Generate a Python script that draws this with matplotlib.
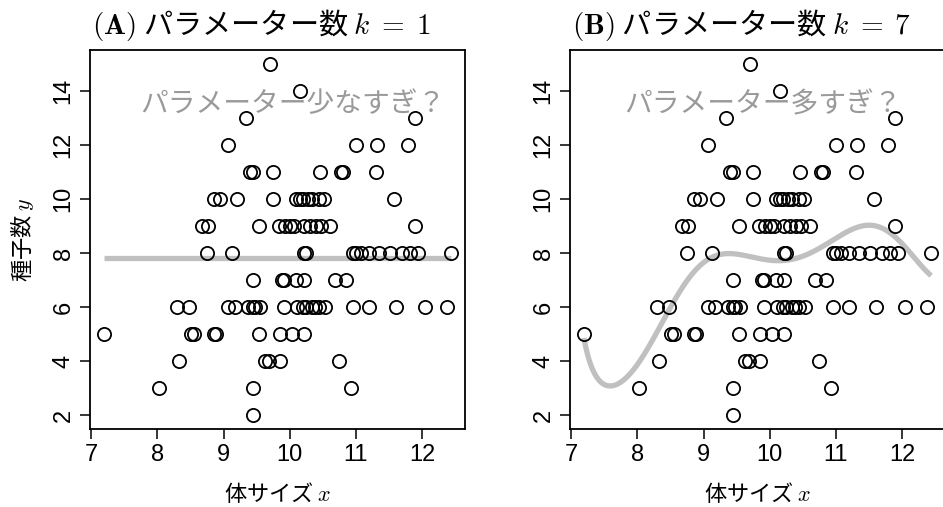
import numpy as np
import matplotlib.pyplot as plt

plt.rcParams['mathtext.fontset'] = 'cm'
jp = ['Noto Sans CJK JP', 'DejaVu Sans']
num_font = ['Liberation Sans Narrow', 'Liberation Sans', 'DejaVu Sans']

# 体サイズ x と 種子数 y
body_size = [
    9.70,
    10.15,
    9.34, 11.89,
    9.07, 11.00, 11.32, 11.79,
    9.40, 9.44, 9.74, 10.46, 10.78, 10.81, 11.30,
    8.85, 8.94, 9.21, 9.75, 10.09, 10.15, 10.20, 10.27, 10.34, 10.45, 10.52, 11.57,
    8.68, 8.77, 9.54, 9.84, 9.93, 10.00, 10.06, 10.22, 10.30, 10.39, 10.48, 10.61, 11.89,
    8.75, 9.12, 10.21, 10.25, 10.95, 11.00, 11.08, 11.20, 11.35, 11.52, 11.69, 11.82, 11.94, 12.44,
    9.44, 9.88, 9.91, 10.09, 10.21, 10.68, 10.85,
    8.30, 8.48, 9.07, 9.17, 9.37, 9.44, 9.47, 9.55, 9.91, 10.11, 10.20, 10.25, 10.33,
    10.38, 10.45, 10.53, 10.95, 11.20, 11.60, 12.04, 12.38,
    7.19, 8.50, 8.55, 8.86, 8.89, 9.54, 9.86, 10.04, 10.22,
    8.33, 9.62, 9.69, 9.86, 10.75,
    8.03, 9.45, 10.93,
    9.45,
]
seed_count = (
    [15] * 1 + [14] * 1 + [13] * 2 + [12] * 4 + [11] * 7 + [10] * 12 + [9] * 13
    + [8] * 14 + [7] * 7 + [6] * 21 + [5] * 9 + [4] * 5 + [3] * 3 + [2] * 1
)

panel_titles = [r"$\mathbf{(A)}$ パラメーター数 $k\;=\;1$",
                r"$\mathbf{(B)}$ パラメーター数 $k\;=\;7$"]
panel_notes = ["パラメーター少なすぎ？", "パラメーター多すぎ？"]
note_x = [10.05, 9.9]
n_params = [1, 7]
x_ticks = [7, 8, 9, 10, 11, 12]
y_ticks = [2, 4, 6, 8, 10, 12, 14]


def poisson_poly(x, y, k):
    # 多項式の Poisson 回帰 (IRLS)
    m, s = x.mean(), x.std()
    X = np.vander((x - m) / s, k, increasing=True)
    b = np.linalg.lstsq(X, np.log(y), rcond=None)[0]
    for _ in range(60):
        eta = X @ b
        mu = np.exp(eta)
        z = eta + (y - mu) / mu
        w = np.sqrt(mu)
        b = np.linalg.lstsq(X * w[:, None], z * w, rcond=None)[0]
    return lambda t: np.exp(np.vander((t - m) / s, k, increasing=True) @ b)


x = np.array(body_size)
y = np.array(seed_count, dtype=float)
xr = x.max() - x.min()
yr = y.max() - y.min()

W, H = 943, 507
fig = plt.figure(figsize=(W / 100, H / 100), dpi=100)

for i, left in enumerate([90, 570]):
    ax = fig.add_axes([left / W, 78 / H, 375 / W, 379 / H])
    ax.set_xlim(x.min() - 0.04 * xr, x.max() + 0.04 * xr)
    ax.set_ylim(y.min() - 0.04 * yr, y.max() + 0.04 * yr)

    f = poisson_poly(x, y, n_params[i])
    xx = np.linspace(x.min(), x.max(), 300)
    ax.plot(xx, f(xx), color='#c0c0c0', lw=3.8, solid_capstyle='butt', zorder=1)

    ax.plot(x, y, 'o', mfc='none', mec='black', ms=9.5, mew=1.3, zorder=2)

    ax.text(note_x[i], 13.5, panel_notes[i], color='#9a9a9a', fontsize=20,
            family=jp, ha='center', va='center', zorder=3)

    ax.set_xticks(x_ticks)
    ax.set_yticks(y_ticks)
    ax.tick_params(direction='out', length=7, width=1.1, labelsize=17, pad=4,
                   colors='black')
    for lab in ax.get_xticklabels():
        lab.set_family(num_font)
    for lab in ax.get_yticklabels():
        lab.set_family(num_font)
        lab.set_rotation(90)
        lab.set_va('center')
    for sp in ax.spines.values():
        sp.set_linewidth(1.3)

    ax.text(0.5, -0.17, "体サイズ $x$", transform=ax.transAxes, ha='center',
            va='center', fontsize=16, family=jp)
    if i == 0:
        ax.text(-0.18, 0.5, "種子数 $y$", transform=ax.transAxes, ha='center',
                va='center', rotation=90, fontsize=16, family=jp)

    fig.text((left + 2) / W, 1 - 25 / H, panel_titles[i], ha='left', va='center',
             fontsize=21, family=jp)

fig.savefig('out.png', dpi=100)
